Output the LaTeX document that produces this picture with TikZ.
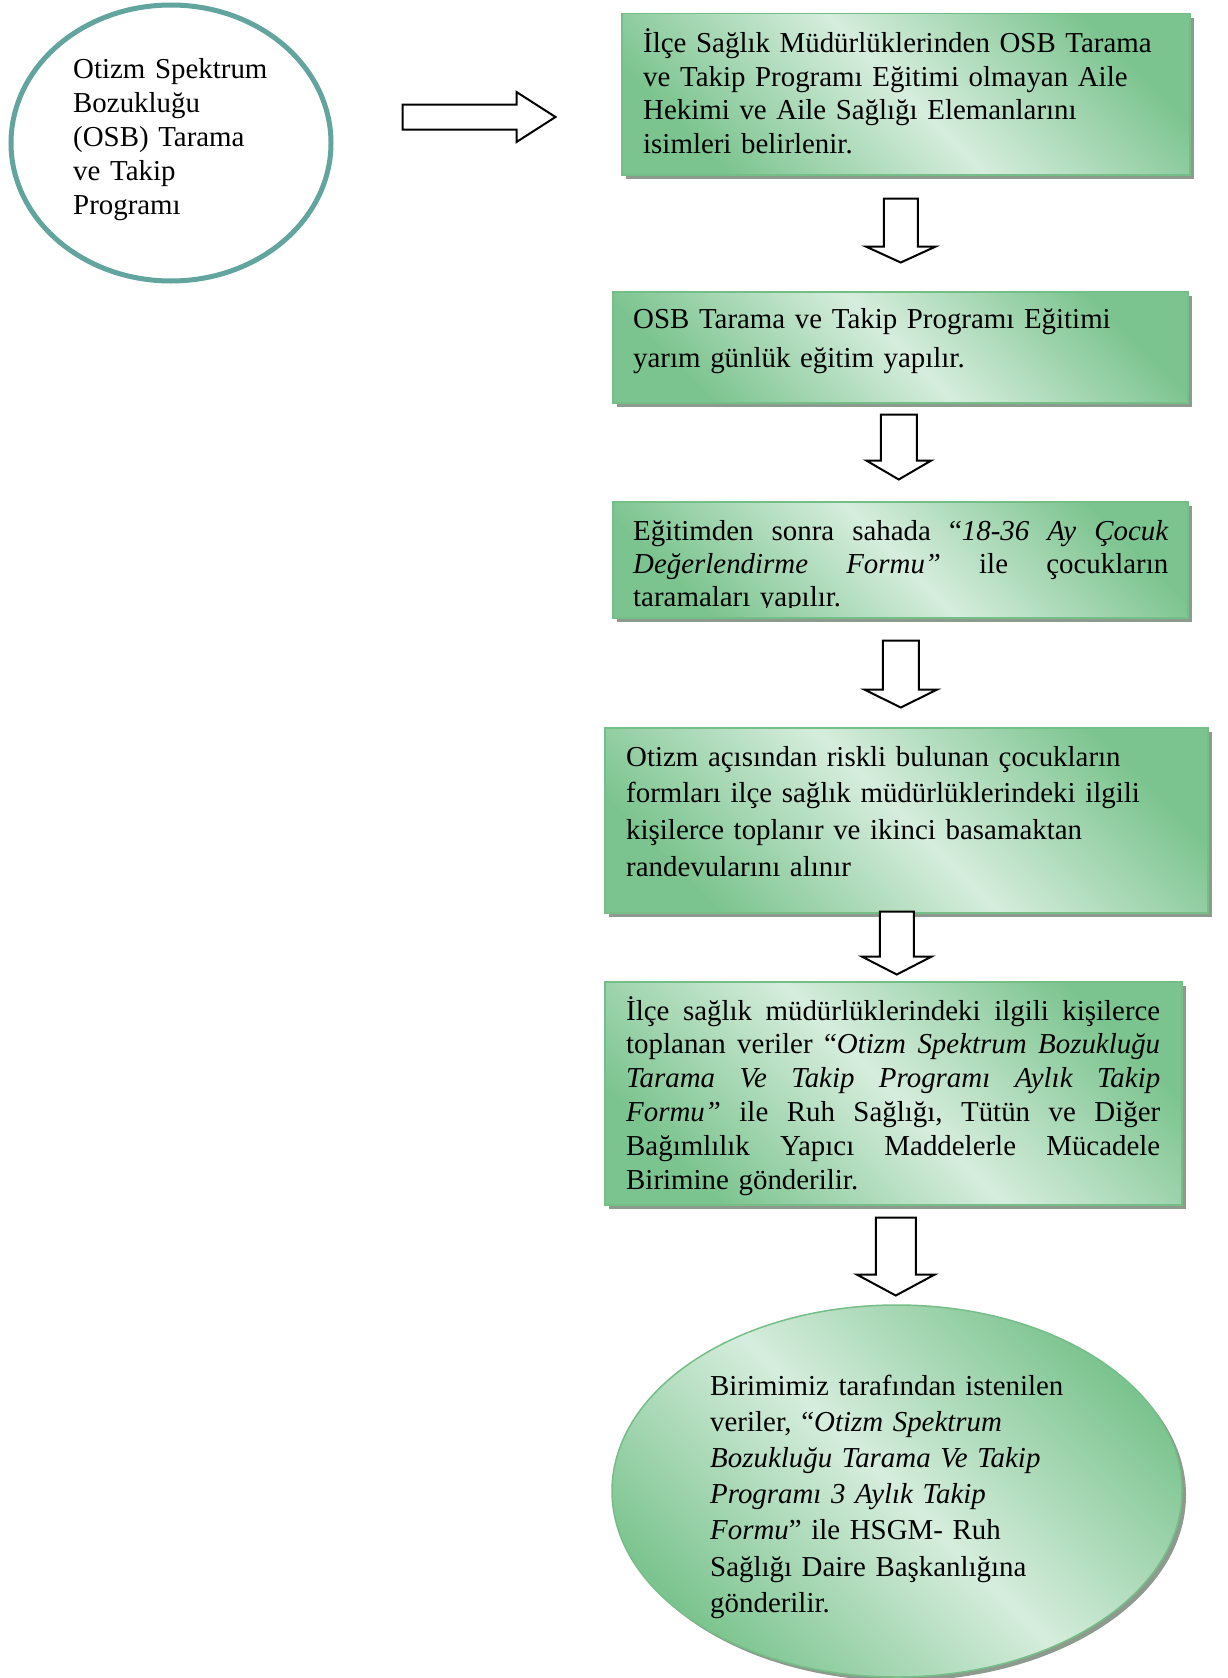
\documentclass[tikz,border=0pt]{standalone}
\usepackage{fontspec}
\setmainfont{Liberation Serif}
\usetikzlibrary{shapes.geometric,shadows,calc}
\definecolor{gdark}{RGB}{124,196,143}
\definecolor{glight}{RGB}{214,237,221}
\definecolor{gborder}{RGB}{118,190,136}
\definecolor{shadowc}{RGB}{140,155,142}
\definecolor{tealring}{RGB}{98,164,158}
\newcommand\jl[2]{\leavevmode\hbox to #1{#2}}
\newcommand\gap{\hfill}
\tikzset{
  gbox/.style={rectangle, draw=gborder, line width=1.5pt, top color=gdark, bottom color=gdark, middle color=glight, shading angle=-45, drop shadow={shadow xshift=4pt, shadow yshift=-4pt, fill=shadowc, opacity=1}, inner sep=0pt, anchor=north west},
  gell/.style={ellipse, draw=gborder, line width=1.5pt, top color=gdark, bottom color=gdark, middle color=glight, shading angle=-45, drop shadow={shadow xshift=4pt, shadow yshift=-4pt, fill=shadowc, opacity=1}, inner sep=0pt},
  ring/.style={ellipse, draw=tealring, line width=5pt, fill=white, inner sep=0pt},
  txt/.style={inner sep=0pt, anchor=base west, align=left, text width=#1},
  blockarrow/.style={draw=black, line width=2pt, fill=white, line join=miter},
  pics/downarr/.style args={#1/#2/#3/#4}{code={\draw[blockarrow] (-#2,0) -- (-#2,#1-#4) -- (-#3,#1-#4) -- (0,#1) -- (#3,#1-#4) -- (#2,#1-#4) -- (#2,0) -- cycle;}},
  pics/rightarr/.style args={#1/#2/#3/#4}{code={\draw[blockarrow] (0,-#2) -- (#1-#4,-#2) -- (#1-#4,-#3) -- (#1,0) -- (#1-#4,#3) -- (#1-#4,#2) -- (0,#2) -- cycle;}}
}
\begin{document}
\begin{tikzpicture}[x=1pt,y=-1pt]
\useasboundingbox (0,0) rectangle (1227,1678);
\fill[white] (0,0) rectangle (1227,1678);

% start circle
\node[ring, minimum width=320pt, minimum height=276pt] (start) at (171,143) {};
\node[txt=250pt, font=\fontsize{28.9}{34}\selectfont] (t0) at (73,78) {Otizm Spektrum\\Bozukluğu\\(OSB) Tarama\\ve Takip\\Programı};

% boxes
\node[gbox, minimum width=568pt, minimum height=161pt] (b1) at (621,13) {};
\node[gbox, minimum width=575pt, minimum height=111pt] (b2) at (612,291) {};
\node[gbox, minimum width=575pt, minimum height=116pt] (b3) at (612,501) {};
\node[gbox, minimum width=603pt, minimum height=185pt] (b4) at (604,727) {};
\node[gbox, minimum width=577pt, minimum height=223pt] (b5) at (604,981) {};
\node[gell, minimum width=570pt, minimum height=372pt] (b6) at (897,1491) {};

% texts
\node[txt=540pt, font=\fontsize{28.9}{33.5}\selectfont] (t1) at (643,52.5) {İlçe Sağlık Müdürlüklerinden OSB Tarama\\ve Takip Programı Eğitimi olmayan Aile\\Hekimi ve Aile Sağlığı Elemanlarını\\isimleri belirlenir.};
\node[txt=540pt, font=\fontsize{28.9}{38.5}\selectfont] (t2) at (633,328.5) {OSB Tarama ve Takip Programı Eğitimi\\yarım günlük eğitim yapılır.};
\begin{scope}
\clip (b3.north west) rectangle ($(b3.south east)+(0,-11.5)$);
\node[txt=535pt, font=\fontsize{28.9}{33.2}\selectfont] (t3) at (633,540) {\jl{535pt}{Eğitimden\gap sonra\gap sahada\gap “{\itshape 18-36\gap Ay\gap Çocuk}}\\\jl{535pt}{{\itshape Değerlendirme\gap Formu”}\gap ile\gap çocukların}\\taramaları yapılır.};
\end{scope}
\node[txt=570pt, font=\fontsize{28.9}{36.7}\selectfont] (t4) at (626,766) {Otizm açısından riskli bulunan çocukların\\formları ilçe sağlık müdürlüklerindeki ilgili\\kişilerce toplanır ve ikinci basamaktan\\randevularını alınır};
\node[txt=534pt, font=\fontsize{28.9}{33.8}\selectfont] (t5) at (626,1020) {\jl{534pt}{İlçe\gap sağlık\gap müdürlüklerindeki\gap ilgili\gap kişilerce}\\\jl{534pt}{toplanan\gap veriler\gap “{\itshape Otizm\gap Spektrum\gap Bozukluğu}}\\\jl{534pt}{{\itshape Tarama\gap Ve\gap Takip\gap Programı\gap Aylık\gap Takip}}\\\jl{534pt}{{\itshape Formu”}\gap ile\gap Ruh\gap Sağlığı,\gap Tütün\gap ve\gap Diğer}\\\jl{534pt}{Bağımlılık\gap Yapıcı\gap Maddelerle\gap Mücadele}\\Birimine gönderilir.};
\node[txt=420pt, font=\fontsize{28.9}{36.2}\selectfont] (t6) at (710,1395) {Birimimiz tarafından istenilen\\veriler, “\textit{Otizm Spektrum}\\\textit{Bozukluğu Tarama Ve Takip}\\\textit{Programı 3 Aylık Takip}\\\textit{Formu}” ile HSGM- Ruh\\Sağlığı Daire Başkanlığına\\gönderilir.};

% block arrows
\pic at ($(start.east)+(69,-26)$) {rightarr=153/12.5/25/39};
\pic at ($(b1.south)+(-5,23)$) {downarr=64/17/35/16};
\pic at ($(b2.south)+(-1.5,11)$) {downarr=65/18/32.5/19};
\pic at ($(b3.south)+(0.5,22)$) {downarr=67/18/36.5/18};
\pic at ($(b4.south)+(-9.5,-2)$) {downarr=63/17/35/18};
\pic at ($(b5.south)+(2.5,12)$) {downarr=78/20/39/21};
\end{tikzpicture}
\end{document}
